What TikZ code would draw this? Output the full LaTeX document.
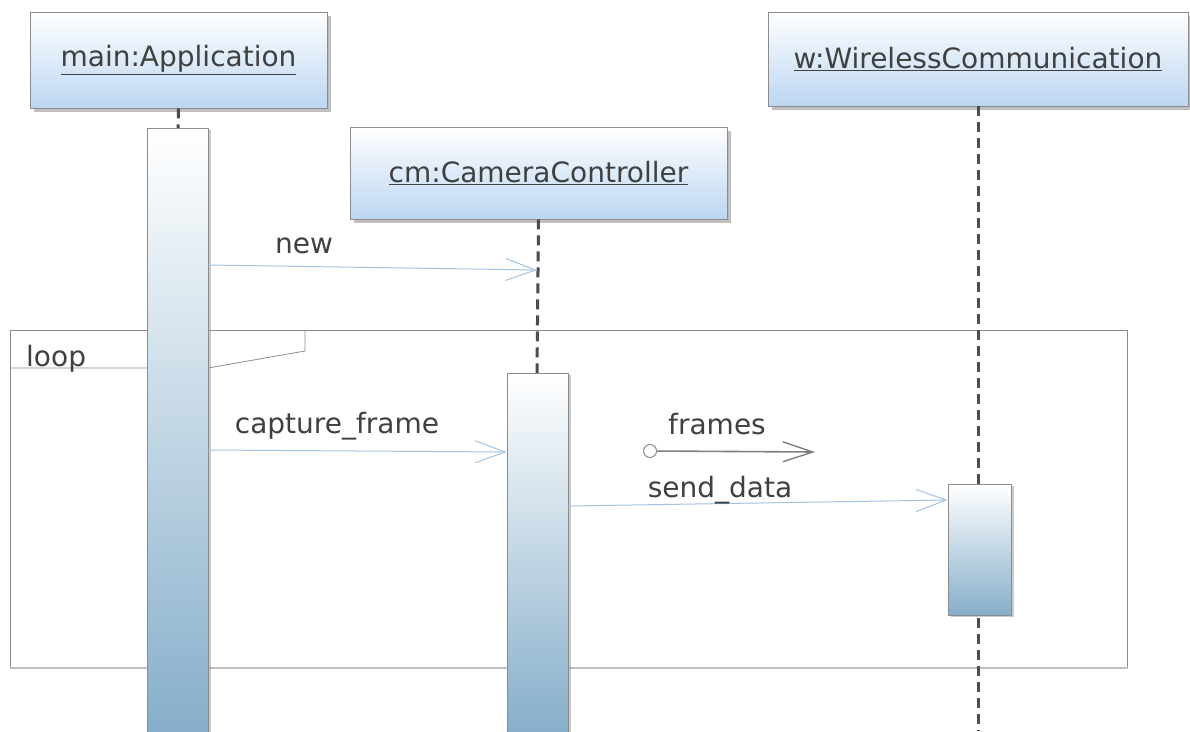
\documentclass[tikz,border=0pt]{standalone}
\usepackage{fontspec}
\setmainfont{DejaVu Sans}
\usetikzlibrary{arrows.meta,shadows}
\definecolor{txt}{HTML}{404040}
\definecolor{boxbot}{HTML}{BCD6F2}
\definecolor{actbot}{HTML}{86AECA}
\definecolor{msg}{HTML}{A3C3E2}
\definecolor{framecol}{HTML}{8C8C8C}
\tikzset{
  x=1pt, y=-1pt,
  objbox/.style={draw=black!45, line width=0.8pt, top color=white, bottom color=boxbot,
    drop shadow={shadow xshift=4pt, shadow yshift=-4pt, fill=black!50},
    text=txt, font=\fontsize{28}{32}\selectfont, inner sep=0pt},
  actbar/.style={draw=black!45, line width=0.8pt, top color=white, bottom color=actbot,
    drop shadow={shadow xshift=3pt, shadow yshift=-2pt, fill=black!40},
    minimum width=61pt, inner sep=0pt},
  lifeline/.style={draw=black!70, line width=3pt, dash pattern=on 10pt off 6pt},
  msgarrow/.style={draw=msg, line width=1pt, -{Straight Barb[length=30pt,width=22pt,line width=1pt]}},
  msglabel/.style={text=txt, font=\fontsize{28}{32}\selectfont, inner sep=0pt},
}
\newcommand{\objname}[1]{\underline{#1}}
\begin{document}
\begin{tikzpicture}
\useasboundingbox (0,0) rectangle (1190,731);
\fill[white] (0,0) rectangle (1190,731);

% lifeline ends
\coordinate (wBot) at (978,731);

% loop fragment
\node[draw=framecol, line width=0.8pt, minimum width=1117pt, minimum height=337pt, inner sep=0pt, anchor=north west] (loopfr) at (10,330) {};
\draw[black!25, line width=1.5pt] (loopfr.south west) -- (loopfr.south east);
\draw[framecol, line width=0.8pt] (10,368) -- (208,368) -- (305,351) -- (305,330);
\node[msglabel, anchor=base west] (looplbl) at (26,366) {loop};

% object boxes
\node[objbox, minimum width=297pt, minimum height=96pt] (main) at (178.5,60) {\objname{main:Application}};
\node[objbox, minimum width=377pt, minimum height=92pt] (cm) at (538.5,173) {\objname{cm:CameraController}};
\node[objbox, minimum width=420pt, minimum height=94pt] (w) at (978,59) {\objname{w:WirelessCommunication}};

\draw[lifeline] (main.south) -- (178,128);
\draw[lifeline] (cm.south) -- (537,373);
\draw[lifeline] (w.south) -- (wBot);

% activation bars
\node[actbar, minimum height=604pt, anchor=north] (mainAct) at (177.5,128) {};
\node[actbar, minimum height=359pt, anchor=north] (cmAct) at (537.5,373) {};
\node[actbar, minimum width=63pt, minimum height=131pt, anchor=north] (wAct) at (979.5,484) {};

% messages
\coordinate (newS) at (mainAct.east |- 0,265);
\coordinate (newE) at (537,270);
\draw[msgarrow] (newS) -- (newE);
\node[msglabel] (newlbl) at (304,246) {new};

\coordinate (capS) at (mainAct.east |- 0,450);
\coordinate (capE) at (cmAct.west |- 0,452);
\draw[msgarrow] (capS) -- (capE);
\node[msglabel] (caplbl) at (337,426) {capture\_frame};

\node[draw=black!45, fill=white, line width=1pt, circle, minimum size=13pt, inner sep=0pt] (frO) at (650,451) {};
\coordinate (frE) at (815,452);
\draw[black!50, line width=1.6pt, -{Straight Barb[length=30pt,width=20pt,line width=1.4pt]}] (frO) -- (frE);
\node[msglabel] (frlbl) at (717,424) {frames};

\coordinate (sdS) at (cmAct.east |- 0,506);
\coordinate (sdE) at (wAct.west |- 0,500);
\draw[msgarrow] (sdS) -- (sdE);
\node[msglabel] (sdlbl) at (720,490) {send\_data};
\end{tikzpicture}
\end{document}
